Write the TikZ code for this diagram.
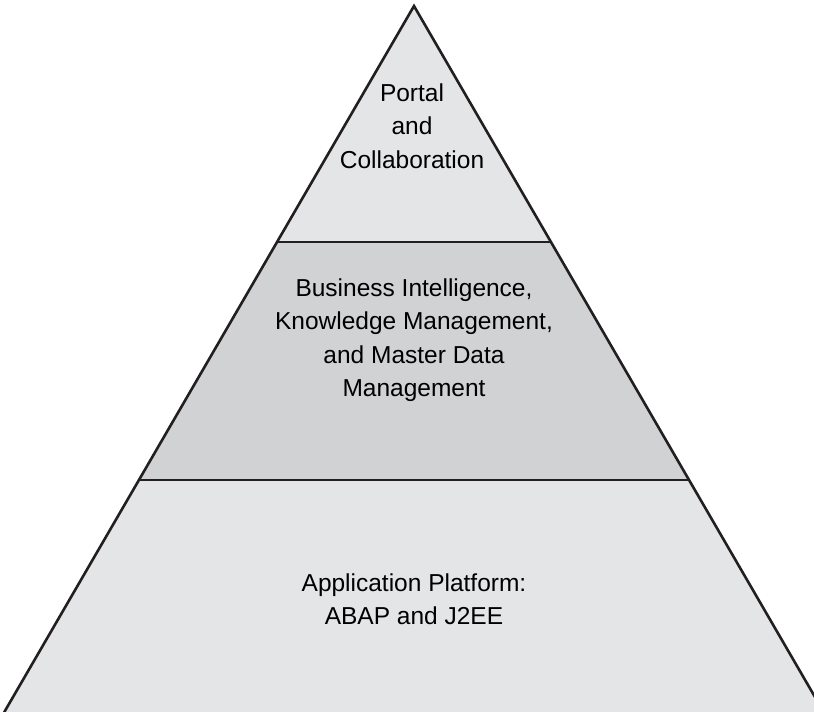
\documentclass[tikz,border=0pt]{standalone}
\usepackage{fontspec}
\setmainfont{Liberation Sans}
\usetikzlibrary{calc}
\definecolor{tierlight}{RGB}{228,229,231}
\definecolor{tierdark}{RGB}{209,210,212}
\definecolor{edge}{RGB}{35,31,32}
\begin{document}
\begin{tikzpicture}[x=1pt,y=-1pt,
  tierlabel/.style={align=center,font=\fontsize{24.5}{33.5}\selectfont,text=black,inner sep=0pt},
  outline/.style={draw=edge,line width=2.6pt,line join=miter},
  divider/.style={draw=edge,line width=2.2pt}]
\useasboundingbox (0,0) rectangle (814,712);
\clip (0,0) rectangle (814,712);
% corner points of the pyramid and of the tier boundaries
\coordinate (apex) at (414,6);
\coordinate (bl) at (2,716);
\coordinate (br) at (826,716);
\coordinate (l1) at (278,242);
\coordinate (r1) at (550,242);
\coordinate (l2) at (140,480);
\coordinate (r2) at (688,480);
% tier fills
\fill[tierlight] (apex) -- (r1) -- (l1) -- cycle;
\fill[tierdark] (l1) -- (r1) -- (r2) -- (l2) -- cycle;
\fill[tierlight] (l2) -- (r2) -- (br) -- (bl) -- cycle;
% tier dividers and outline
\draw[divider] (l1) -- (r1);
\draw[divider] (l2) -- (r2);
\draw[outline] (bl) -- (apex) -- (br);
% labels
\node[tierlabel] (top) at (412,126) {Portal\\and\\Collaboration};
\node[tierlabel] (mid) at (414,340) {Business Intelligence,\\Knowledge Management,\\and Master Data\\Management};
\node[tierlabel] (base) at (414,599) {Application Platform:\\ABAP and J2EE};
\end{tikzpicture}
\end{document}
